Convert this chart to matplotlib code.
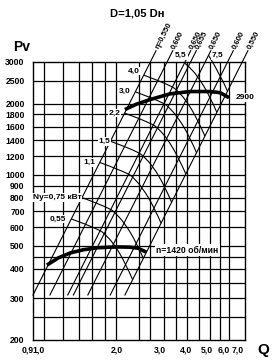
import numpy as np
import matplotlib.pyplot as plt
from matplotlib import transforms
from matplotlib.path import Path
from matplotlib.patches import PathPatch
from matplotlib.ticker import NullLocator

plt.rcParams['font.family'] = ['Liberation Sans', 'DejaVu Sans']
plt.rcParams['font.weight'] = 'bold'

# axes grid
q_grid = [1.0, 1.2, 1.4, 1.6, 1.8, 2.0, 2.5, 2.8, 3.2, 3.6, 4.0, 4.5, 5.0, 5.5, 6.0]
q_ticks = [0.9, 1.0, 2.0, 3.0, 4.0, 5.0, 6.0, 7.0]
q_tick_labels = ['0,9', '1,0', '2,0', '3,0', '4,0', '5,0', '6,0', '7,0']
p_grid = [250, 300, 350, 400, 450, 500, 600, 700, 800, 900, 1000,
          1200, 1400, 1600, 1800, 2000, 2500]
p_ticks = [200, 300, 400, 500, 600, 700, 800, 900, 1000,
           1200, 1400, 1600, 1800, 2000, 2500, 3000]

# fan curves
q_1420 = [1.03, 1.15, 1.29, 1.47, 1.67, 1.88, 2.09, 2.30, 2.49, 2.69]
p_1420 = [415, 445, 467, 482, 491, 494, 495, 494, 489, 471]
q_2900 = [2.19, 2.45, 2.79, 3.39, 4.11, 4.99, 5.50, 6.00]
p_2900 = [1888, 1990, 2080, 2200, 2250, 2250, 2225, 2120]

# efficiency rays
eff_labels = ['η=0,550', '0,600', '0,650', '0,655', '0,650', '0,600', '0,550']
eff_q_bottom = [0.90, 1.06, 1.26, 1.33, 1.53, 1.90, 2.19]
eff_q_top = [2.96, 3.48, 4.14, 4.37, 5.03, 6.25, 7.20]
eff_p_bottom = 310
eff_p_top = 3350

# power lines
power_labels = ['0,55', 'Ny=0,75 кВт', '1,1', '1,5', '2,2', '3,0', '4,0', '5,5', '7,5']
power_q = [
    [1.30, 1.50, 1.73, 1.79, 1.97, 2.21, 2.36],
    [1.45, 1.66, 1.92, 1.98, 2.18, 2.45, 2.62],
    [1.72, 1.97, 2.28, 2.36, 2.59, 2.91, 3.11],
    [1.90, 2.19, 2.52, 2.61, 2.87, 3.22, 3.44],
    [2.18, 2.51, 2.89, 3.00, 3.29, 3.69, 3.95],
    [2.42, 2.78, 3.21, 3.32, 3.65, 4.10, 4.38],
    [2.63, 3.02, 3.48, 3.60, 3.96, 4.44, 4.75],
    [3.91, 4.05, 4.44, 4.99, 5.33],
    [4.92, 5.53, 5.91],
]
power_p = [
    [651, 618, 580, 565, 511, 419, 360],
    [800, 760, 713, 694, 627, 516, 442],
    [1127, 1071, 1006, 979, 884, 727, 623],
    [1387, 1317, 1236, 1203, 1088, 895, 766],
    [1824, 1732, 1626, 1581, 1429, 1176, 1007],
    [2245, 2130, 2001, 1946, 1759, 1447, 1239],
    [2639, 2505, 2353, 2289, 2069, 1701, 1458],
    [2965, 2885, 2605, 2144, 1837],
    [3202, 2634, 2258],
]
# label offsets in pixels (dx, dy, ha)
power_label_pos = [(-5, 0, 'right'), (-1, 0, 'right'), (-5, 0, 'right'),
                   (0, 0, 'right'), (-4, 0, 'right'), (-5, 0, 'right'),
                   (-4, 4, 'right'), (2, 8, 'right'), (3, 0, 'left')]
q_label_dx = [-5, -5, 1, 2, -1, -3, -5, -7]


def smooth_path(qs, ps):
    # quadratic bezier through the midpoints (log space), passing the end points
    lq, lp = np.log10(qs), np.log10(ps)
    verts = [(qs[0], ps[0])]
    codes = [Path.MOVETO]
    for i in range(1, len(qs) - 1):
        mq = 10 ** ((lq[i] + lq[i + 1]) / 2)
        mp = 10 ** ((lp[i] + lp[i + 1]) / 2)
        if i == len(qs) - 2:
            mq, mp = qs[-1], ps[-1]
        verts += [(qs[i], ps[i]), (mq, mp)]
        codes += [Path.CURVE3, Path.CURVE3]
    if len(qs) == 2:
        verts.append((qs[1], ps[1]))
        codes.append(Path.LINETO)
    return Path(verts, codes)


fig = plt.figure(figsize=(2.72, 3.6), dpi=100)
ax = fig.add_axes([33/272, 20/360, 212/272, 278/360])
ax.set_xscale('log')
ax.set_yscale('log')
ax.set_xlim(0.9, 7.0)
ax.set_ylim(200, 3000)

ax.set_xticks(q_grid)
ax.set_xticklabels([])
ax.xaxis.set_minor_locator(NullLocator())
ax.set_yticks(p_ticks)
ax.set_yticklabels([str(p) for p in p_ticks])
ax.yaxis.set_minor_locator(NullLocator())
ax.tick_params(length=0, labelsize=6.2, pad=6)
for lab in ax.get_yticklabels():
    lab.set_fontweight('bold')
for s in ax.spines.values():
    s.set_linewidth(1.0)

for q in q_grid:
    ax.axvline(q, color='black', lw=0.9, zorder=1)
for p in p_grid:
    ax.axhline(p, color='black', lw=0.9, zorder=1)

# x labels
blend = transforms.blended_transform_factory(ax.transData, ax.transAxes)
for q, lab, dx in zip(q_ticks, q_tick_labels, q_label_dx):
    tr = transforms.offset_copy(blend, fig=fig, x=dx, y=0, units='dots')
    ax.text(q, -0.035, lab, transform=tr, ha='center', va='center',
            fontsize=6.2, fontweight='bold')

# efficiency rays
for qb, qt, lab in zip(eff_q_bottom, eff_q_top, eff_labels):
    ax.plot([qb, qt], [eff_p_bottom, eff_p_top], color='black', lw=0.8,
            clip_on=False, zorder=2)
    ax.annotate(lab, xy=(qt, eff_p_top), xytext=(1, 2), textcoords='offset pixels',
                rotation=63.2, rotation_mode='anchor', ha='left', va='center',
                fontsize=5.6, fontweight='bold', annotation_clip=False)

# power lines
for qs, ps, lab, (dx, dy, ha) in zip(power_q, power_p, power_labels, power_label_pos):
    ax.add_patch(PathPatch(smooth_path(qs, ps), fc='none', ec='black', lw=0.8,
                           clip_on=False, zorder=2))
    ax.annotate(lab, xy=(qs[0], ps[0]), xytext=(dx, dy), textcoords='offset pixels',
                ha=ha, va='center', fontsize=6.0, fontweight='bold',
                annotation_clip=False, zorder=4,
                bbox=dict(fc='white', ec='none', pad=0.6))

# fan curves
ax.plot(q_1420, p_1420, color='black', lw=2.6, solid_capstyle='butt', zorder=3)
ax.plot(q_2900, p_2900, color='black', lw=2.6, solid_capstyle='butt', zorder=3)
ax.annotate('n=1420 об/мин', xy=(q_1420[-1], p_1420[-1]), xytext=(10, 2),
            textcoords='offset pixels', ha='left', va='center', fontsize=6.2,
            fontweight='bold', zorder=4, bbox=dict(fc='white', ec='none', pad=0.8))
ax.annotate('2900', xy=(q_2900[-1], p_2900[-1]), xytext=(7, 0),
            textcoords='offset pixels', ha='left', va='center', fontsize=6.0,
            fontweight='bold', zorder=4, annotation_clip=False,
            bbox=dict(fc='white', ec='none', pad=0.6))

fig.text(137/272, 1 - 13/360, 'D=1,05 Dн', ha='center', va='center',
         fontsize=8, fontweight='bold')
fig.text(22/272, 1 - 47/360, 'Pv', ha='center', va='center',
         fontsize=10, fontweight='bold')
fig.text(263/272, 1 - 350/360, 'Q', ha='center', va='center',
         fontsize=11, fontweight='bold')

fig.savefig('out.png', dpi=100)
